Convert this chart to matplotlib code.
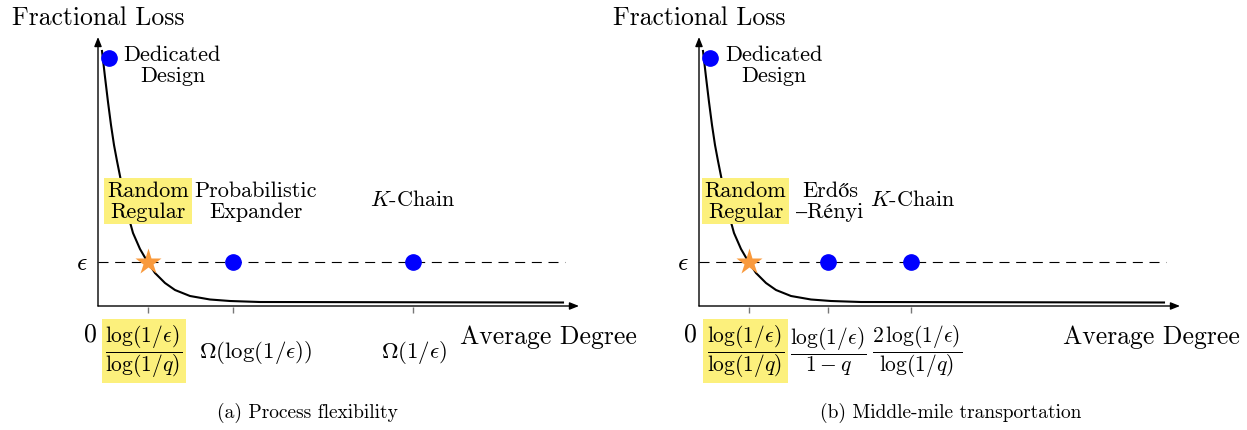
import matplotlib
matplotlib.use("Agg")
import matplotlib.pyplot as plt

plt.rcParams['font.family'] = ['cmr10', 'STIXGeneral', 'DejaVu Serif']
plt.rcParams['mathtext.fontset'] = 'cm'
plt.rcParams['axes.unicode_minus'] = False

# ---------------- data ----------------
# loss curve (degree, fractional loss)
curve_x = [0.08, 0.14, 0.20, 0.26, 0.32, 0.38, 0.44, 0.52, 0.60, 0.70, 0.84, 0.98,
           1.14, 1.34, 1.54, 1.84, 2.24, 2.64, 3.24, 9.30]
curve_y = [1.020, 0.916, 0.816, 0.724, 0.644, 0.580, 0.520, 0.436, 0.364, 0.292, 0.228, 0.180,
           0.132, 0.092, 0.064, 0.040, 0.026, 0.020, 0.016, 0.014]
eps_level = 0.176
dedicated_pt = (0.22, 0.992)

# panel (a) process flexibility
a_star_x = 1.0
a_dots_x = [2.70, 6.30]
a_ticks = [1.0, 2.70, 6.30]
a_tick_labels = [r'$\dfrac{\log(1/\epsilon)}{\log(1/q)}$', r'$\Omega(\log(1/\epsilon))$', r'$\Omega(1/\epsilon)$']
a_point_labels = ['Random\nRegular', 'Probabilistic\nExpander', r'$K$-Chain']

# panel (b) middle-mile transportation
b_star_x = 1.0
b_dots_x = [2.58, 4.24]
b_ticks = [1.0, 2.58, 4.24]
b_tick_labels = [r'$\dfrac{\log(1/\epsilon)}{\log(1/q)}$', r'$\dfrac{\log(1/\epsilon)}{1-q}$',
                 r'$\dfrac{2\,\log(1/\epsilon)}{\log(1/q)}$']
b_point_labels = ['Random\nRegular', 'Erdős\n–Rényi', r'$K$-Chain']

captions = ['(a) Process flexibility', '(b) Middle-mile transportation']

YELLOW = '#fcf07c'
ORANGE = '#f99a3d'
BLUE = '#0000ff'

W, H = 1247, 431
fig = plt.figure(figsize=(W / 100, H / 100), dpi=100)

SX, SY = 50.0, 250.0  # px per data unit


def make_axes(px0, px1, origin_px):
    ax = fig.add_axes([px0 / W, 0, (px1 - px0) / W, 1])
    ax.set_xlim((px0 - origin_px) / SX, (px1 - origin_px) / SX)
    ax.set_ylim((307 - H) / SY, 307 / SY)
    ax.axis('off')
    return ax


def draw_panel(ax, star_x, dots_x, ticks, tick_labels, point_labels, label_x, lab_pos, caption, cap_x,
               zero_x, ded_x, avg_x):
    fs_big = 18.5
    fs_mid = 16
    # axes arrows
    arr = dict(arrowstyle='-|>,head_length=0.55,head_width=0.22', lw=1.0, color='black',
               shrinkA=0, shrinkB=0)
    ax.annotate('', xy=(9.62, 0), xytext=(0, 0), arrowprops=arr)
    ax.annotate('', xy=(0, 1.076), xytext=(0, 0), arrowprops=arr)
    # ticks
    for t in ticks:
        ax.plot([t, t], [-0.004, -0.026], color='#777777', lw=1.0, solid_capstyle='butt')
    # epsilon line
    ax.plot([0, 9.34], [eps_level, eps_level], color='black', lw=0.8,
            linestyle=(0, (9, 6)))
    # curve
    ax.plot(curve_x, curve_y, color='black', lw=1.5, zorder=3)
    # markers
    ax.plot([dedicated_pt[0]], [dedicated_pt[1]], 'o', color=BLUE, ms=11, zorder=5)
    ax.plot(dots_x, [eps_level] * len(dots_x), 'o', color=BLUE, ms=11, zorder=5, ls='none')
    ax.plot([star_x], [eps_level], '*', color=ORANGE, ms=20, zorder=6, mec='none')
    # axis labels
    ax.text(0, 1.156, 'Fractional Loss', ha='center', va='center', fontsize=fs_big)
    ax.text(avg_x, -0.12, 'Average Degree', ha='center', va='center', fontsize=fs_big)
    ax.text(zero_x, -0.112, '0', ha='center', va='center', fontsize=fs_big)
    ax.text(-0.32, eps_level, r'$\epsilon$', ha='center', va='center', fontsize=fs_big)
    # tick labels
    for i, (lx, lab) in enumerate(zip(label_x, tick_labels)):
        kw = {}
        if i == 0:
            kw['bbox'] = dict(boxstyle='square,pad=0.17', fc=YELLOW, ec='none')
        fs = 15.5 if 'frac' in lab else 16.5
        ax.text(lx, -0.18, lab, ha='center', va='center', fontsize=fs, **kw)
    # point labels
    for i, ((px, py), lab) in enumerate(zip(lab_pos, point_labels)):
        kw = {}
        if i == 0:
            kw['bbox'] = dict(boxstyle='square,pad=0.12', fc=YELLOW, ec='none')
        ax.text(px, py, lab, ha='center', va='center', fontsize=fs_mid,
                linespacing=1.1, multialignment='center', **kw)
    ax.text(ded_x, 0.966, 'Dedicated\nDesign', ha='center', va='center', fontsize=fs_mid,
            linespacing=1.1, multialignment='center')
    ax.text(cap_x, -0.424, caption, ha='center', va='center', fontsize=14)


ax_a = make_axes(0, 623.5, 98)
ax_b = make_axes(623.5, 1247, 699)

draw_panel(ax_a, a_star_x, a_dots_x, a_ticks, a_tick_labels, a_point_labels,
           [0.92, 3.16, 6.32], [(1.0, 0.42), (3.16, 0.42), (6.30, 0.428)],
           captions[0], 4.18, -0.16, 1.49, 9.01)
draw_panel(ax_b, b_star_x, b_dots_x, b_ticks, b_tick_labels, b_point_labels,
           [0.93, 2.58, 4.36], [(0.93, 0.42), (2.62, 0.42), (4.28, 0.428)],
           captions[1], 5.04, -0.18, 1.5, 9.05)

fig.savefig('out.png', dpi=100)
